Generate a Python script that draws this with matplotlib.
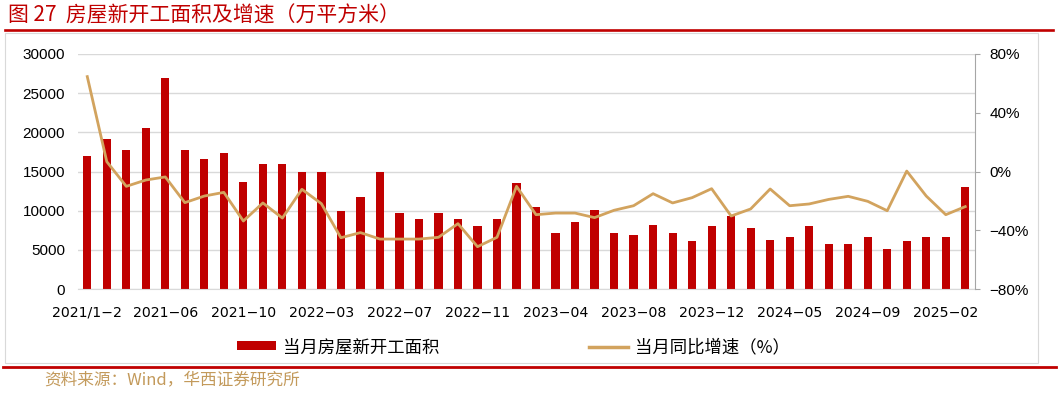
import matplotlib
matplotlib.use("Agg")
import matplotlib.pyplot as plt
from matplotlib.lines import Line2D
from matplotlib.patches import Rectangle, Patch
import numpy as np

plt.rcParams['font.family'] = ['Noto Sans CJK SC', 'DejaVu Sans']

# categories: 2021/1-2 ... 2025-03 (Jan-Feb combined each year)
months = ['2021/1-2', '2021-03', '2021-04', '2021-05', '2021-06', '2021-07', '2021-08', '2021-09',
          '2021-10', '2021-11', '2021-12', '2022/1-2', '2022-03', '2022-04', '2022-05', '2022-06',
          '2022-07', '2022-08', '2022-09', '2022-10', '2022-11', '2022-12', '2023/1-2', '2023-03',
          '2023-04', '2023-05', '2023-06', '2023-07', '2023-08', '2023-09', '2023-10', '2023-11',
          '2023-12', '2024/1-2', '2024-03', '2024-04', '2024-05', '2024-06', '2024-07', '2024-08',
          '2024-09', '2024-10', '2024-11', '2024-12', '2025-02', '2025-03']
tick_labels = ['2021/1-2', '2021-06', '2021-10', '2022-03', '2022-07', '2022-11',
               '2023-04', '2023-08', '2023-12', '2024-05', '2024-09', '2025-02']

# 当月房屋新开工面积 (万平方米)
area = [17000, 19100, 17800, 20500, 26900, 17800, 16600, 17400, 13700, 16000,
        16000, 14900, 14900, 9900, 11800, 14900, 9700, 8900, 9700, 8900,
        8000, 8900, 13500, 10500, 7100, 8600, 10100, 7100, 6900, 8200,
        7100, 6100, 8000, 9300, 7800, 6300, 6600, 8000, 5700, 5700,
        6600, 5100, 6100, 6600, 6600, 13000]
# 当月同比增速 (%)
yoy = [64.6, 6.7, -10.1, -5.8, -3.7, -21.2, -16.7, -14.2, -33.7, -21.4,
       -31.7, -12.1, -21.9, -45.1, -41.6, -46.0, -46.0, -46.0, -44.8, -35.5,
       -51.2, -44.8, -10.1, -29.4, -28.3, -28.3, -31.4, -26.4, -23.3, -15.1,
       -21.4, -17.8, -11.7, -30.3, -25.5, -11.9, -23.3, -22.1, -19.0, -16.9,
       -20.3, -26.7, 0.3, -16.7, -29.4, -23.9]

red = '#C00000'
tan = '#D2A35E'
grid = '#D9D9D9'
axis_gray = '#A6A6A6'

fig = plt.figure(figsize=(10.59, 3.93), dpi=100)
ax = fig.add_axes([0.0732, 0.2646, 0.8475, 0.598])
x = np.arange(len(months))

ax.bar(x, area, width=0.42, color=red, zorder=2)
ax.set_xlim(-0.5, len(months) - 0.5)
ax.set_ylim(0, 30000)
ax.set_yticks(range(0, 30001, 5000))
ax.yaxis.grid(True, color=grid, linewidth=1.0, zorder=0)
ax.set_axisbelow(True)
for s in ['top', 'left', 'right']:
    ax.spines[s].set_visible(False)
ax.spines['bottom'].set_color(grid)
ax.tick_params(axis='y', length=0, pad=9)
for lab in ax.get_yticklabels():
    lab.set_fontfamily('Liberation Sans')
    lab.set_fontsize(11)
# label every 4th category (the last label sits on the 2025 Jan-Feb bar)
ax.set_xticks(x[::4])
ax.set_xticklabels([t.replace('-', '\u2212') for t in tick_labels],
                   fontfamily='DejaVu Sans', fontsize=10.2)
ax.tick_params(axis='x', length=0, pad=12)

ax2 = ax.twinx()
ax2.plot(x, yoy, color=tan, linewidth=2.0, zorder=3)
ax2.set_ylim(-80, 80)
ax2.set_yticks([-80, -40, 0, 40, 80])
ax2.set_yticklabels(['\u221280%', '\u221240%', '0%', '40%', '80%'],
                    fontfamily='Liberation Sans', fontsize=11)
for s in ['top', 'left', 'bottom']:
    ax2.spines[s].set_visible(False)
ax2.spines['right'].set_color(axis_gray)
ax2.tick_params(axis='y', direction='out', length=3.6, color=axis_gray, pad=7)

# legend
handles = [Patch(facecolor=red, edgecolor='none'),
           Line2D([0], [0], color=tan, linewidth=2.5)]
fig.legend(handles, ['当月房屋新开工面积', '当月同比增速（%）'],
           loc='center left', bbox_to_anchor=(0.2238, 0.117), ncol=2,
           frameon=False, fontsize=12.5, handlelength=2.25, handleheight=0.45,
           handletextpad=0.4, columnspacing=8.6, borderpad=0, borderaxespad=0)

# frame, title and source
fig.add_artist(Rectangle((0.0047, 0.0763), 0.9753, 0.8397, transform=fig.transFigure,
                         fill=False, edgecolor=grid, linewidth=0.8))
fig.add_artist(Line2D([0.0047, 0.9943], [0.9224, 0.9224], transform=fig.transFigure,
                      color=red, linewidth=1.9))
fig.add_artist(Line2D([0.003, 0.997], [0.0662, 0.0662], transform=fig.transFigure,
                      color=red, linewidth=2.0))
fig.text(0.0076, 0.962, '图 27  房屋新开工面积及增速（万平方米）', color=red,
         fontsize=15, va='center', ha='left')
fig.text(0.0415, 0.033, '资料来源：Wind，华西证券研究所', color='#C39A5B',
         fontsize=12, va='center', ha='left')

fig.savefig('out.png', dpi=100)
